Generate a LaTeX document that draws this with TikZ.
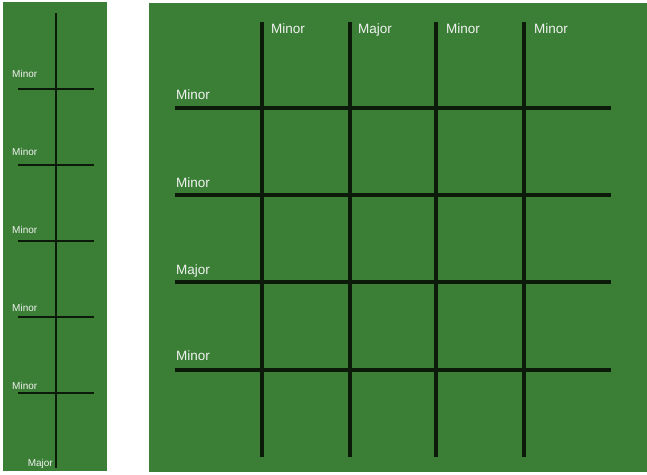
\documentclass[tikz,border=0pt]{standalone}
\usepackage{fontspec}
\setmainfont{Liberation Sans}
\definecolor{bggreen}{HTML}{3A7F35}
\definecolor{gridline}{HTML}{0B1A09}
\definecolor{labelcol}{HTML}{F2F2F2}
\begin{document}
\begin{tikzpicture}[x=1pt,y=-1pt,
  panel/.style={fill=bggreen,draw=none},
  thinline/.style={draw=gridline,line width=2.2pt},
  thickline/.style={draw=gridline,line width=3.4pt},
  smalllab/.style={text=labelcol,font=\fontsize{10}{12}\selectfont,inner sep=0pt,anchor=west,text height=0.72em,text depth=0.21em},
  biglab/.style={text=labelcol,font=\fontsize{13.5}{16}\selectfont,inner sep=0pt,anchor=west,text height=0.72em,text depth=0.21em}]
\useasboundingbox[fill=white] (0,0) rectangle (647,474);
% panels
\path[panel] (3,2) rectangle (107,471);
\path[panel] (149,3) rectangle (647,472);
% left panel
\draw[thinline] (56,13) -- (56,468);
\foreach \y/\ly [count=\i] in {89/75,165/153,241/231,317/309,393/387}{
  \draw[thinline] (18,\y) -- (94,\y);
  \node[smalllab] (lm\i) at (12,\ly) {Minor};
}
\node[smalllab,anchor=east] (lmaj) at (53,464) {Major};
% right panel grid
\foreach \x in {262,350,436,524}{
  \draw[thickline] (\x,22) -- (\x,457);
}
\foreach \y in {108,195,282,370}{
  \draw[thickline] (175,\y) -- (611,\y);
}
\node[biglab] (t1) at (271,31) {Minor};
\node[biglab] (t2) at (358,31) {Major};
\node[biglab] (t3) at (446,31) {Minor};
\node[biglab] (t4) at (534,31) {Minor};
\node[biglab] (r1) at (176,97) {Minor};
\node[biglab] (r2) at (176,185) {Minor};
\node[biglab] (r3) at (176,272) {Major};
\node[biglab] (r4) at (176,358) {Minor};
\end{tikzpicture}
\end{document}
